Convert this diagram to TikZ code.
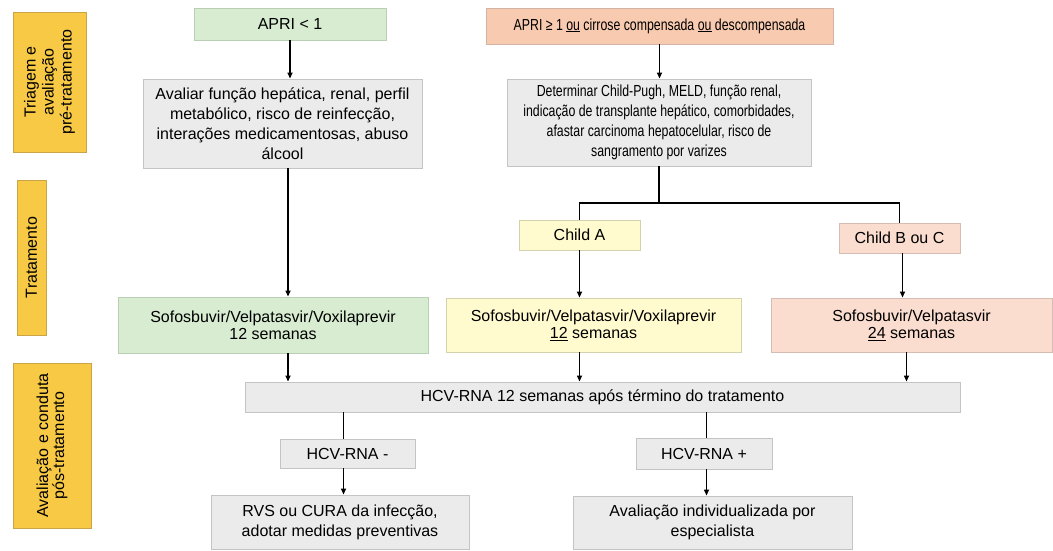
\documentclass[tikz,border=0pt]{standalone}
\usepackage{fontspec}
\setmainfont{Liberation Sans}
\newfontfamily\condfont[FakeStretch=0.77]{Liberation Sans}
\usetikzlibrary{arrows.meta,calc}
\definecolor{labfill}{HTML}{F8C945}
\definecolor{labdraw}{HTML}{C9A548}
\definecolor{gfill}{HTML}{D7ECD1}
\definecolor{gdraw}{HTML}{B9CFB3}
\definecolor{grfill}{HTML}{EBEBEB}
\definecolor{grdraw}{HTML}{C4C4C4}
\definecolor{pfill}{HTML}{F8CAAF}
\definecolor{pdraw}{HTML}{D3B3A3}
\definecolor{sfill}{HTML}{FBDDD0}
\definecolor{sdraw}{HTML}{D6BCB2}
\definecolor{yfill}{HTML}{FFFBCF}
\definecolor{ydraw}{HTML}{D4D1AE}
\begin{document}
\begin{tikzpicture}[x=1pt,y=-1pt,
  base/.style={rectangle, line width=0.9pt, inner sep=2pt, align=center,
    font=\fontsize{16}{20}\selectfont},
  labbox/.style={base, fill=labfill, draw=labdraw, rotate=90},
  greenbox/.style={base, fill=gfill, draw=gdraw},
  graybox/.style={base, fill=grfill, draw=grdraw},
  peachbox/.style={base, fill=pfill, draw=pdraw},
  salmonbox/.style={base, fill=sfill, draw=sdraw},
  yellowbox/.style={base, fill=yfill, draw=ydraw},
  tight/.style={font=\fontsize{16}{17}\selectfont},
  conn/.style={line width=1.7pt, black},
  arr/.style={conn, -{Triangle[length=6pt,width=5pt]}}
]
\useasboundingbox (0,0) rectangle (1053,550);

% side labels
\node[labbox, minimum width=140, minimum height=73,
  font=\fontsize{16}{18}\selectfont] (lab1) at (49.5,82)
  {Triagem e\\avaliação\\pré-tratamento};
\node[labbox, minimum width=155, minimum height=29] (lab2) at (31.5,257.5)
  {Tratamento};
\node[labbox, minimum width=165, minimum height=78,
  font=\fontsize{16}{16}\selectfont] (lab3) at (52,445.5)
  {Avaliação e conduta\\pós-tratamento};

% top row
\node[greenbox, minimum width=192, minimum height=32] (apri1) at (290,24)
  {APRI < 1};
\node[peachbox, minimum width=347, minimum height=36,
  font=\condfont\fontsize{16}{20}\selectfont] (apri2) at (659.5,26)
  {APRI ≥ 1 \underline{ou} cirrose compensada \underline{ou} descompensada};

% evaluation boxes
\node[graybox, minimum width=279, minimum height=89] (aval) at (282.5,123.5)
  {Avaliar função hepática, renal, perfil\\metabólico, risco de reinfecção,\\interações medicamentosas, abuso\\álcool};
\node[graybox, minimum width=304, minimum height=87,
  font=\condfont\fontsize{16}{20}\selectfont] (det) at (659,122.5)
  {Determinar Child-Pugh, MELD, função renal,\\indicação de transplante hepático, comorbidades,\\afastar carcinoma hepatocelular, risco de\\sangramento por varizes};

% Child classes
\node[yellowbox, minimum width=121, minimum height=30] (childA) at (579.5,235)
  {Child A};
\node[salmonbox, minimum width=121, minimum height=30] (childB) at (899.5,238)
  {Child B ou C};
\coordinate (branch) at (659,203);

% treatments
\node[greenbox, tight, minimum width=310, minimum height=56] (sofG) at (273,325)
  {Sofosbuvir/Velpatasvir/Voxilaprevir\\12 semanas};
\node[yellowbox, tight, minimum width=295, minimum height=54] (sofY) at (593.5,325)
  {Sofosbuvir/Velpatasvir/Voxilaprevir\\\underline{12} semanas};
\node[salmonbox, tight, minimum width=281, minimum height=54] (sofS) at (911.5,325)
  {Sofosbuvir/Velpatasvir\\\underline{24} semanas};

% post treatment
\node[graybox, minimum width=715, minimum height=30] (hcv) at (602.5,397)
  {HCV-RNA 12 semanas após término do tratamento};
\node[graybox, minimum width=135, minimum height=29] (neg) at (347.5,453.5)
  {HCV-RNA -};
\node[graybox, minimum width=136, minimum height=31] (pos) at (704,453.5)
  {HCV-RNA +};
\node[graybox, minimum width=258, minimum height=54] (rvs) at (340,522)
  {RVS ou CURA da infecção,\\adotar medidas preventivas};
\node[graybox, minimum width=279, minimum height=53] (avi) at (712.5,522.5)
  {Avaliação individualizada por\\especialista};

% connector anchor points
\path (aval.south) ++(5.5,0) coordinate (p1);
\path (childB.south) ++(3,0) coordinate (p2);
\path (sofG.south) ++(15,0) coordinate (p3);
\path (sofS.south) ++(-5,0) coordinate (p4);
\path (neg.south) ++(-4,0) coordinate (p5);
\path (pos.south) ++(2.5,0) coordinate (p6);

% connectors
\draw[arr] (apri1.south) -- (apri1.south |- aval.north);
\draw[arr] (p1) -- (p1 |- sofG.north);
\draw[arr] (apri2.south) -- (apri2.south |- det.north);
\draw[conn] (det.south) -- (det.south |- branch);
\draw[conn] (childA.north) |- (branch) -| (childB.north);
\draw[arr] (childA.south) -- (childA.south |- sofY.north);
\draw[arr] (p2) -- (p2 |- sofS.north);
\draw[arr] (p3) -- (p3 |- hcv.north);
\draw[arr] (sofY.south -| childA.south) -- (hcv.north -| childA.south);
\draw[arr] (p4) -- (p4 |- hcv.north);
\draw[conn] (p5 |- hcv.south) -- (p5 |- neg.north);
\draw[arr] (p5) -- (p5 |- rvs.north);
\draw[conn] (p6 |- hcv.south) -- (p6 |- pos.north);
\draw[arr] (p6) -- (p6 |- avi.north);
\end{tikzpicture}
\end{document}
